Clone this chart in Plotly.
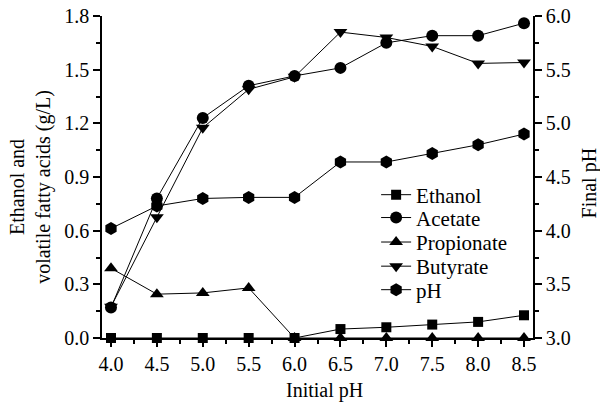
import plotly.graph_objects as go

initial_ph = [4.0, 4.5, 5.0, 5.5, 6.0, 6.5, 7.0, 7.5, 8.0, 8.5]
ethanol = [0.0, 0.0, 0.0, 0.0, 0.0, 0.05, 0.06, 0.075, 0.09, 0.127]
acetate = [0.17, 0.78, 1.23, 1.41, 1.465, 1.51, 1.65, 1.69, 1.69, 1.76]
propionate = [0.39, 0.245, 0.252, 0.28, 0.0, 0.0, 0.0, 0.0, 0.0, 0.0]
butyrate = [0.175, 0.675, 1.175, 1.39, 1.46, 1.71, 1.68, 1.63, 1.535, 1.54]
final_ph = [4.02, 4.23, 4.30, 4.31, 4.31, 4.64, 4.64, 4.72, 4.80, 4.90]

y_left_ticks = [0.0, 0.3, 0.6, 0.9, 1.2, 1.5, 1.8]
y_right_ticks = [3.0, 3.5, 4.0, 4.5, 5.0, 5.5, 6.0]
x_ticks = initial_ph

FONT = "Liberation Serif"
TICK_SIZE = 20
TITLE_SIZE = 20
LEGEND_SIZE = 21

fig = go.Figure()
series = [
    ("Ethanol", ethanol, "square", 10, "y", "legend"),
    ("Acetate", acetate, "circle", 12, "y", "legend2"),
    ("Propionate", propionate, "triangle-up", 12, "y", "legend3"),
    ("Butyrate", butyrate, "triangle-down", 12, "y", "legend4"),
    ("pH", final_ph, "hexagon", 13, "y2", "legend5"),
]
for name, vals, sym, sz, ax, lg in series:
    fig.add_trace(go.Scatter(
        x=initial_ph, y=vals, name=name, yaxis=ax, legend=lg,
        mode="lines+markers",
        line=dict(color="black", width=1),
        marker=dict(symbol=sym, size=sz, color="black"),
        cliponaxis=False,
    ))

axis_common = dict(
    showline=True, linecolor="black", linewidth=1.5,
    ticks="outside", ticklen=7, tickwidth=1.5, tickcolor="black",
    showgrid=False, zeroline=False, automargin=False,
    tickfont=dict(family=FONT, size=TICK_SIZE, color="black"),
)

def minor(dtick, tick0):
    return dict(ticks="outside", ticklen=4, tickwidth=1.5, tickcolor="black",
                dtick=dtick, tick0=tick0, showgrid=False)

legend_y = [0.444, 0.373, 0.297, 0.222, 0.149]
legend_x = 0.636

def legend_box(y):
    return dict(x=legend_x, y=y, xanchor="left", yanchor="middle",
                bgcolor="rgba(0,0,0,0)", font=dict(family=FONT, size=LEGEND_SIZE, color="black"),
                itemwidth=30)

title_font = dict(family=FONT, size=TITLE_SIZE, color="black")

fig.update_layout(
    width=600, height=403,
    margin=dict(l=102, r=67, t=16, b=65, autoexpand=False),
    plot_bgcolor="white", paper_bgcolor="white",
    font=dict(family=FONT, color="black"),
    xaxis=dict(
        range=[3.902, 8.598], tickvals=x_ticks, ticktext=[f"{v:.1f}" for v in x_ticks],
        minor=minor(0.25, 4.0), **axis_common,
    ),
    yaxis=dict(
        range=[0, 1.8], tickvals=y_left_ticks, ticktext=[f"{v:.1f}" for v in y_left_ticks],
        minor=minor(0.15, 0), **axis_common,
    ),
    yaxis2=dict(
        range=[3.0, 6.0], tickvals=y_right_ticks, ticktext=[f"{v:.1f}" for v in y_right_ticks],
        overlaying="y", side="right",
        minor=minor(0.25, 3.0), **axis_common,
    ),
    legend=legend_box(legend_y[0]),
    legend2=legend_box(legend_y[1]),
    legend3=legend_box(legend_y[2]),
    legend4=legend_box(legend_y[3]),
    legend5=legend_box(legend_y[4]),
    showlegend=True,
    annotations=[
        dict(text="Initial pH", xref="paper", yref="paper", x=0.517, y=-0.163,
             xanchor="center", yanchor="middle", showarrow=False, font=title_font),
        dict(text="Ethanol and<br>volatile fatty acids (g/L)", xref="paper", yref="paper",
             x=-0.165, y=0.469, xanchor="center", yanchor="middle", textangle=-90,
             showarrow=False, font=title_font),
        dict(text="Final pH", xref="paper", yref="paper", x=1.13, y=0.48,
             xanchor="center", yanchor="middle", textangle=-90,
             showarrow=False, font=title_font),
    ],
)

fig.write_html(
    "out.html",
    config={"displayModeBar": False},
    post_script="document.body.style.margin='0';document.body.style.padding='0';",
)
